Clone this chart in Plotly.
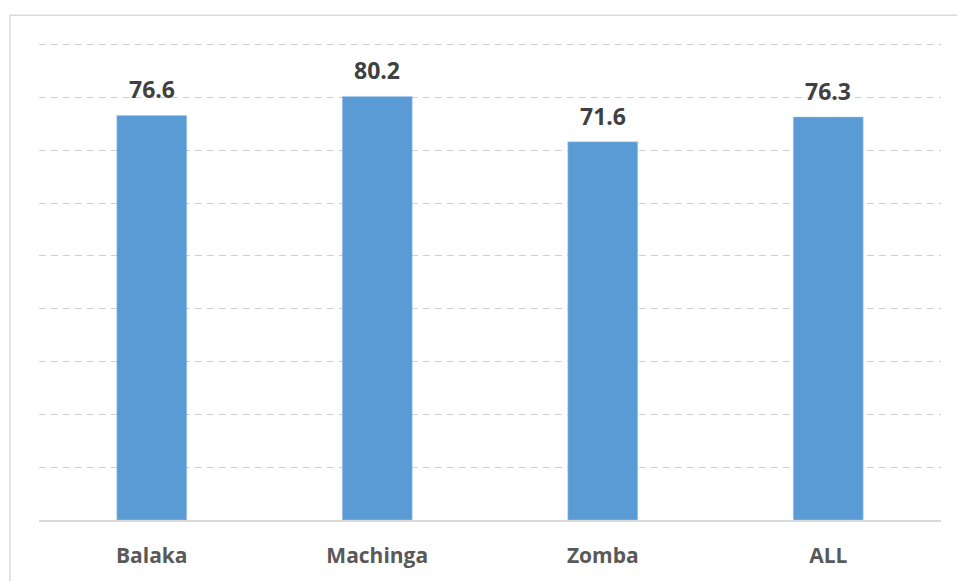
import plotly.graph_objects as go

categories = ["Balaka", "Machinga", "Zomba", "ALL"]
values = [76.6, 80.2, 71.6, 76.3]
value_labels = ["76.6", "80.2", "71.6", "76.3"]

fig = go.Figure()
fig.add_trace(go.Bar(
    x=categories, y=values,
    marker=dict(color="#5B9BD5", line=dict(color="#A9C8EA", width=0.5)),
))

for c, v, t in zip(categories, values, value_labels):
    fig.add_annotation(x=c, y=v, text=t, showarrow=False, yanchor="bottom",
                       yshift=8,
                       font=dict(family="Open Sans", size=23, color="#404040", weight="bold"))

fig.update_layout(
    width=957, height=581,
    margin=dict(l=39, r=16, t=42, b=57),
    plot_bgcolor="white", paper_bgcolor="white",
    bargap=0.69, showlegend=False,
    font=dict(family="Open Sans"),
    shapes=[dict(type="rect", xref="paper", yref="paper",
                 x0=-0.0322, x1=1.1, y0=-0.3, y1=1.056,
                 line=dict(color="#D9D9D9", width=1.5), layer="below")],
)
fig.update_yaxes(range=[0, 90.5], tickvals=[10, 20, 30, 40, 50, 60, 70, 80, 90],
                 showticklabels=False,
                 showgrid=True, gridcolor="#D0D0D0", gridwidth=1, griddash="7px,5px",
                 zeroline=False, showline=False)
fig.update_xaxes(showline=True, linecolor="#D9D9D9", linewidth=1.5,
                 tickfont=dict(family="Open Sans", size=21, color="#595959", weight="bold"),
                 ticks="", ticklabelstandoff=16)

fig.write_html("out.html")
